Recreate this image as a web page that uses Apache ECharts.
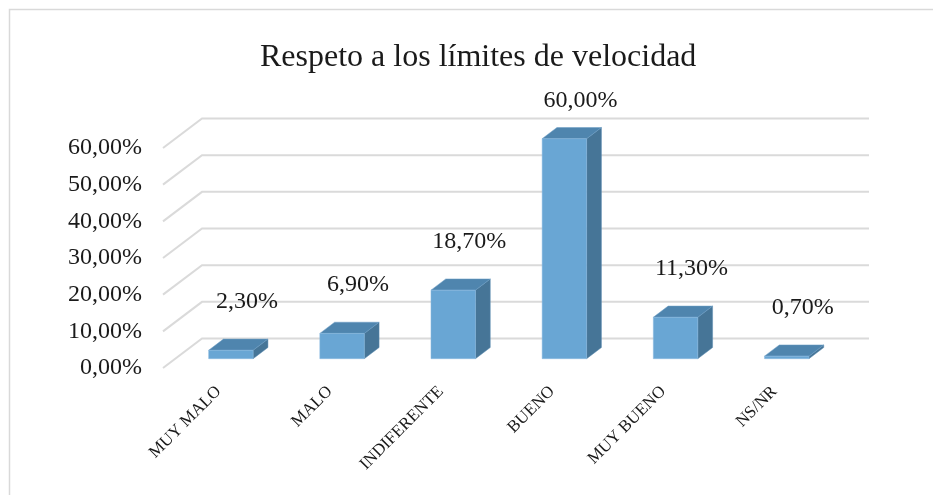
<!DOCTYPE html>
<html>
<head>
<meta charset="utf-8">
<script src="https://cdn.jsdelivr.net/npm/echarts@6/dist/echarts.min.js"></script>
<style>html,body{margin:0;padding:0;background:#fff}#c{width:933px;height:495px}</style>
</head>
<body>
<div id="c"></div>
<script>
var titleText = 'Respeto a los límites de velocidad';
var categories = ['MUY MALO', 'MALO', 'INDIFERENTE', 'BUENO', 'MUY BUENO', 'NS/NR'];
var values = [2.3, 6.9, 18.7, 60.0, 11.3, 0.7];
var yTicks = [0, 10, 20, 30, 40, 50, 60];

function pct(v) { return v.toFixed(2).replace('.', ',') + '%'; }

// depth styling (pixels)
var WALL_DX = 39, WALL_DY = -29.5;   // floor depth (front to back wall)
var BAR_FX = 12.3, BAR_FY = -9.3;    // bar front face offset from front plane
var BAR_DX = 14.8, BAR_DY = -11.2;   // bar depth
var BAR_W = 0.4;                     // fraction of band
var LABEL_GAP = 37;                  // data label centre above bar top
var FONT = '"Liberation Serif", "Times New Roman", serif';

var chart = echarts.init(document.getElementById('c'));
chart.setOption({
  backgroundColor: '#fff',
  animation: false,
  title: {
    text: titleText,
    left: 260,
    top: 42,
    padding: 0,
    textStyle: { fontFamily: FONT, fontSize: 32, fontWeight: 'normal', color: '#1a1a1a' }
  },
  graphic: [{
    type: 'rect', silent: true, z: -10,
    shape: { x: 9.5, y: 9.5, width: 1000, height: 1000 },
    style: { fill: 'none', stroke: '#d9d9d9', lineWidth: 1.5 }
  }],
  grid: { left: 163, right: 103, top: 148, bottom: 127 },
  xAxis: {
    type: 'category',
    data: categories,
    axisLine: { show: false },
    axisTick: { show: false },
    axisLabel: {
      rotate: 45, margin: 21, interval: 0,
      fontFamily: FONT, fontSize: 17, color: '#1a1a1a'
    }
  },
  yAxis: {
    type: 'value',
    min: 0, max: 60, interval: 10,
    axisLine: { show: false },
    axisTick: { show: false },
    splitLine: { show: false },
    axisLabel: {
      margin: 21, fontFamily: FONT, fontSize: 24, color: '#1a1a1a',
      padding: [10, 0, 0, 0],
      formatter: function (v) { return pct(v); }
    }
  },
  series: [
    {
      type: 'custom',
      z: 1,
      silent: true,
      data: yTicks.map(function (t) { return [0, t]; }),
      encode: { x: 0, y: 1 },
      renderItem: function (params, api) {
        var cs = params.coordSys;
        var y = api.coord([0, api.value(1)])[1];
        return {
          type: 'polyline',
          shape: { points: [[cs.x, y], [cs.x + WALL_DX, y + WALL_DY], [cs.x + cs.width + WALL_DX, y + WALL_DY]] },
          style: { stroke: '#dadada', lineWidth: 2, fill: null }
        };
      }
    },
    {
      type: 'custom',
      z: 2,
      data: values.map(function (v, i) { return [i, v]; }),
      encode: { x: 0, y: 1 },
      renderItem: function (params, api) {
        var cs = params.coordSys;
        var i = api.value(0), v = api.value(1);
        var top = api.coord([i, v]);
        var base = api.coord([i, 0]);
        var bw = api.size([1, 0])[0] * BAR_W;
        var xl = top[0] - bw / 2 + BAR_FX, xr = top[0] + bw / 2 + BAR_FX;
        var yt = top[1] + BAR_FY, yb = base[1] + BAR_FY;
        var ly = Math.max(yt + BAR_DY - LABEL_GAP, cs.y - 47);
        return {
          type: 'group',
          children: [
            { type: 'polygon', shape: { points: [[xr, yt], [xr + BAR_DX, yt + BAR_DY], [xr + BAR_DX, yb + BAR_DY], [xr, yb]] },
              style: { fill: '#467597', stroke: '#5a8ab0', lineWidth: 0.5 } },
            { type: 'polygon', shape: { points: [[xl, yt], [xr, yt], [xr + BAR_DX, yt + BAR_DY], [xl + BAR_DX, yt + BAR_DY]] },
              style: { fill: '#4f85ae', stroke: '#6a9cc4', lineWidth: 0.5 } },
            { type: 'rect', shape: { x: xl, y: yt, width: bw, height: yb - yt },
              style: { fill: '#69a6d4', stroke: '#8bbbe0', lineWidth: 0.5 } },
            { type: 'text', style: {
                text: pct(v), x: (xl + xr) / 2 + 16, y: ly,
                align: 'center', verticalAlign: 'middle',
                font: '24px ' + FONT, fill: '#1a1a1a' } }
          ]
        };
      }
    }
  ]
});
</script>
</body>
</html>
